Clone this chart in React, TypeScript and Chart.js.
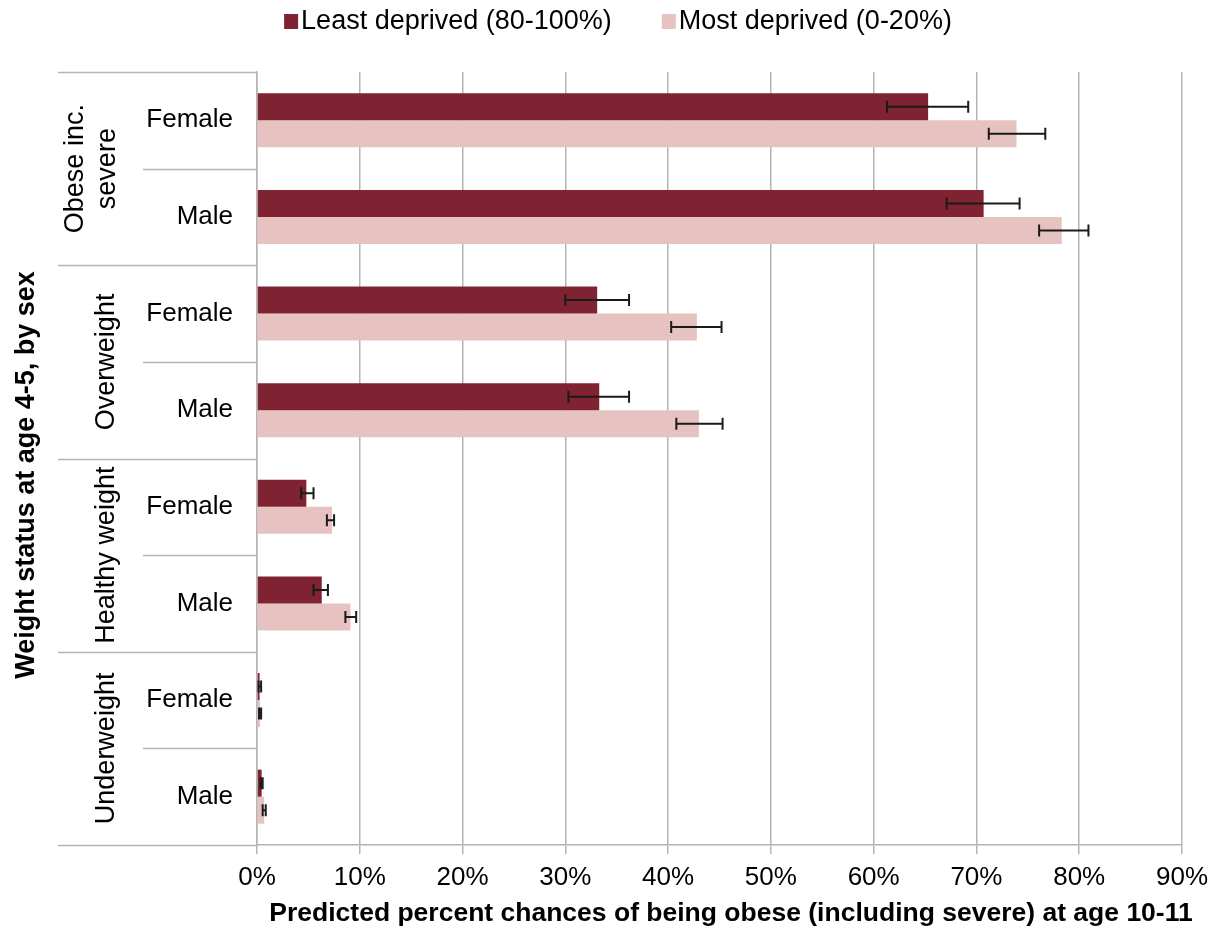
import React, { useEffect, useRef } from "react";
import { Chart, registerables } from "chart.js";

Chart.register(...registerables);

const sexLabels = ["Female", "Male", "Female", "Male", "Female", "Male", "Female", "Male"];
const groupLabels: string[][] = [["Obese inc.", "severe"], ["Overweight"], ["Healthy weight"], ["Underweight"]];
const seriesNames = ["Least deprived (80-100%)", "Most deprived (0-20%)"];

const leastValues = [65.3, 70.7, 33.1, 33.3, 4.8, 6.3, 0.25, 0.45];
const leastLow = [61.3, 67.1, 30.0, 30.3, 4.3, 5.5, 0.15, 0.35];
const leastHigh = [69.2, 74.2, 36.2, 36.2, 5.5, 6.9, 0.4, 0.55];

const mostValues = [73.9, 78.3, 42.8, 43.0, 7.3, 9.1, 0.3, 0.7];
const mostLow = [71.2, 76.1, 40.3, 40.8, 6.8, 8.6, 0.2, 0.55];
const mostHigh = [76.7, 80.9, 45.2, 45.3, 7.5, 9.65, 0.4, 0.85];

const xTicks = [0, 10, 20, 30, 40, 50, 60, 70, 80, 90];

const xTitle = "Predicted percent chances of being obese (including severe) at age 10-11";
const yTitle = "Weight status at age 4-5, by sex";

const DARK = "#7F2333";
const LIGHT = "#E6C3C0";
const GRID = "#B4B4B4";
const FONT = "'Liberation Sans', Arial, sans-serif";

const errorBars = [
  { low: leastLow, high: leastHigh },
  { low: mostLow, high: mostHigh },
];

const decorPlugin = {
  id: "decor",
  afterDatasetsDraw(chart: any) {
    const ctx = chart.ctx;
    const xs = chart.scales.x;
    ctx.save();
    ctx.strokeStyle = "#1a1a1a";
    ctx.lineWidth = 2;
    errorBars.forEach((eb, di) => {
      const meta = chart.getDatasetMeta(di);
      meta.data.forEach((bar: any, i: number) => {
        const y = bar.y;
        const x1 = xs.getPixelForValue(eb.low[i]);
        const x2 = xs.getPixelForValue(eb.high[i]);
        const h = 6;
        ctx.beginPath();
        ctx.moveTo(x1, y);
        ctx.lineTo(x2, y);
        ctx.moveTo(x1, y - h);
        ctx.lineTo(x1, y + h);
        ctx.moveTo(x2, y - h);
        ctx.lineTo(x2, y + h);
        ctx.stroke();
      });
    });
    ctx.restore();
  },
  afterDraw(chart: any) {
    const ctx = chart.ctx;
    const area = chart.chartArea;
    const n = sexLabels.length;
    const step = (area.bottom - area.top) / n;
    ctx.save();
    // separator lines in the label area
    ctx.strokeStyle = GRID;
    ctx.lineWidth = 1.5;
    for (let k = 0; k <= n; k++) {
      const y = Math.round(area.top + k * step) + 0.5;
      const x0 = k % 2 === 0 ? 58 : 143;
      ctx.beginPath();
      ctx.moveTo(x0, y);
      ctx.lineTo(area.left, y);
      ctx.stroke();
    }
    // group labels
    ctx.fillStyle = "#000";
    ctx.font = `27px ${FONT}`;
    ctx.textAlign = "center";
    ctx.textBaseline = "middle";
    groupLabels.forEach((lines, g) => {
      const cy = area.top + (g * 2 + 1) * step;
      const lh = 32;
      const center = lines.length > 1 ? 92 : 107;
      const cx0 = center - ((lines.length - 1) * lh) / 2;
      lines.forEach((line, li) => {
        ctx.save();
        ctx.translate(cx0 + li * lh, cy);
        ctx.rotate(-Math.PI / 2);
        ctx.fillText(line, 0, 0);
        ctx.restore();
      });
    });
    // y title
    ctx.font = `bold 27px ${FONT}`;
    ctx.save();
    ctx.translate(27, 475);
    ctx.rotate(-Math.PI / 2);
    ctx.fillText(yTitle, 0, 0);
    ctx.restore();
    // x title
    ctx.font = `bold 26.5px ${FONT}`;
    ctx.fillText(xTitle, 731, 914);
    // legend
    ctx.font = `27px ${FONT}`;
    ctx.textAlign = "left";
    const colors = [DARK, LIGHT];
    const box = 14;
    const gapText = 3;
    const spacing = 50;
    const widths = seriesNames.map((s) => ctx.measureText(s).width);
    const total = widths.reduce((a, w) => a + box + gapText + w, 0) + spacing;
    let x = 618 - total / 2;
    seriesNames.forEach((s, i) => {
      ctx.fillStyle = colors[i];
      ctx.fillRect(x, 14, box, 15);
      ctx.fillStyle = "#000";
      ctx.fillText(s, x + box + gapText, 22);
      x += box + gapText + widths[i] + spacing;
    });
    ctx.restore();
  },
};

export default function App() {
  const canvasRef = useRef<HTMLCanvasElement | null>(null);

  useEffect(() => {
    if (!canvasRef.current) return;
    const chart = new Chart(canvasRef.current, {
      type: "bar",
      data: {
        labels: sexLabels,
        datasets: [
          {
            label: seriesNames[0],
            data: leastValues,
            backgroundColor: DARK,
            borderWidth: 0,
            categoryPercentage: 0.56,
            barPercentage: 1.0,
          },
          {
            label: seriesNames[1],
            data: mostValues,
            backgroundColor: LIGHT,
            borderWidth: 0,
            categoryPercentage: 0.56,
            barPercentage: 1.0,
          },
        ],
      },
      options: {
        indexAxis: "y",
        responsive: false,
        animation: false,
        layout: { padding: { top: 72, right: 33, left: 0, bottom: 0 } },
        plugins: {
          legend: { display: false },
          tooltip: { enabled: false },
        },
        scales: {
          x: {
            type: "linear",
            min: 0,
            max: 90,
            afterBuildTicks: (scale: any) => {
              scale.ticks = xTicks.map((v) => ({ value: v }));
            },
            afterFit: (scale: any) => {
              scale.height = 88;
            },
            ticks: {
              callback: (v: any) => `${v}%`,
              color: "#000",
              font: { family: FONT, size: 26 },
              padding: 8,
              maxRotation: 0,
            },
            grid: {
              color: GRID,
              lineWidth: 1.5,
              tickLength: 9,
            },
            border: { display: true, color: GRID, width: 1.5 },
          },
          y: {
            type: "category",
            afterFit: (scale: any) => {
              scale.width = 257;
            },
            ticks: {
              color: "#000",
              font: { family: FONT, size: 26 },
              padding: 24,
            },
            grid: { display: false, drawTicks: false },
            border: { display: true, color: GRID, width: 1.5 },
          },
        },
      },
      plugins: [decorPlugin],
    });
    return () => chart.destroy();
  }, []);

  return (
    <div style={{ position: "fixed", left: 0, top: 0, width: 1216, height: 933, background: "#fff" }}>
      <canvas ref={canvasRef} width={1216} height={933} style={{ display: "block" }} />
    </div>
  );
}
